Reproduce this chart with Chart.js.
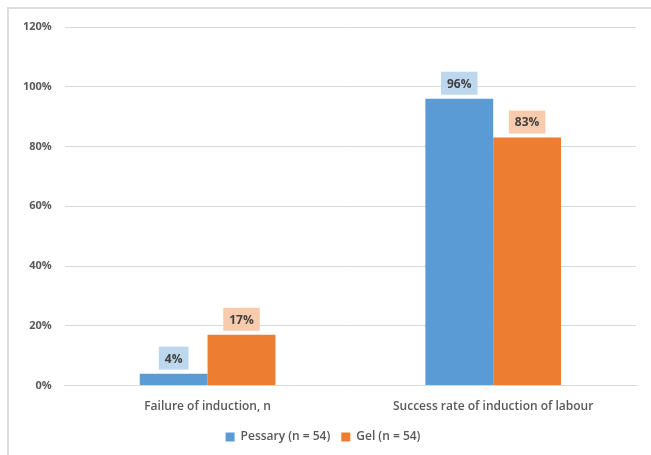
<!DOCTYPE html>
<html>
<head>
<meta charset="utf-8">
<script src="https://cdn.jsdelivr.net/npm/chart.js@4"></script>
<style>
  body { margin: 0; background: #fff; }
  #frame { position: absolute; left: 7px; top: 7px; width: 644px; height: 448px;
           border-left: 2px solid #dedede; border-top: 2px solid #dedede; }
  #wrap { position: absolute; left: 0; top: 0; width: 651px; height: 455px; }
</style>
</head>
<body>
<div id="frame"></div>
<div id="wrap"><canvas id="chart"></canvas></div>
<script>
// categories and series
const categories = ['Failure of induction, n', 'Success rate of induction of labour'];
const pessary = [4, 96];
const gel = [17, 83];
const seriesNames = ['Pessary (n = 54)', 'Gel (n = 54)'];

// boxed value labels above the bars (Excel style)
const boxLabels = {
  id: 'boxLabels',
  afterDatasetsDraw(chart) {
    const ctx = chart.ctx;
    const fills = ['#bdd7ee', '#f8cbad'];
    ctx.save();
    ctx.font = 'bold 12px "Open Sans", sans-serif';
    ctx.textAlign = 'center';
    ctx.textBaseline = 'middle';
    chart.data.datasets.forEach(function(ds, i) {
      chart.getDatasetMeta(i).data.forEach(function(bar, j) {
        const txt = ds.data[j] + '%';
        const w = ctx.measureText(txt).width + 12;
        const h = 23;
        const cy = bar.y - 4 - h / 2;
        ctx.fillStyle = fills[i];
        ctx.fillRect(bar.x - w / 2, cy - h / 2, w, h);
        ctx.fillStyle = '#404040';
        ctx.fillText(txt, bar.x, cy + 1);
      });
    });
    ctx.restore();
  }
};

new Chart(document.getElementById('chart'), {
  type: 'bar',
  data: {
    labels: categories,
    datasets: [
      { label: seriesNames[0], data: pessary, backgroundColor: '#5b9bd5', borderWidth: 0 },
      { label: seriesNames[1], data: gel, backgroundColor: '#ed7d31', borderWidth: 0 }
    ]
  },
  options: {
    responsive: true,
    maintainAspectRatio: false,
    animation: false,
    layout: { padding: { left: 10, right: 15, top: 27, bottom: 2 } },
    datasets: { bar: { categoryPercentage: 0.475, barPercentage: 1.0 } },
    scales: {
      x: {
        grid: { display: false },
        border: { color: '#d9d9d9', width: 1 },
        ticks: { color: '#595959', font: { family: '"Open Sans", sans-serif', size: 12, weight: '600' }, padding: 6 }
      },
      y: {
        min: 0, max: 120,
        ticks: { stepSize: 20, callback: v => v + '%', color: '#595959',
                 font: { family: '"Open Sans", sans-serif', size: 11, weight: 'bold' }, padding: 13 },
        grid: { color: '#d9d9d9', lineWidth: 1, drawTicks: false },
        border: { display: false }
      }
    },
    plugins: {
      legend: {
        position: 'bottom',
        labels: { boxWidth: 9, boxHeight: 9, color: '#595959', padding: 11,
                  font: { family: '"Open Sans", sans-serif', size: 12, weight: '600' } }
      },
      tooltip: { enabled: false }
    }
  },
  plugins: [boxLabels]
});
</script>
</body>
</html>
